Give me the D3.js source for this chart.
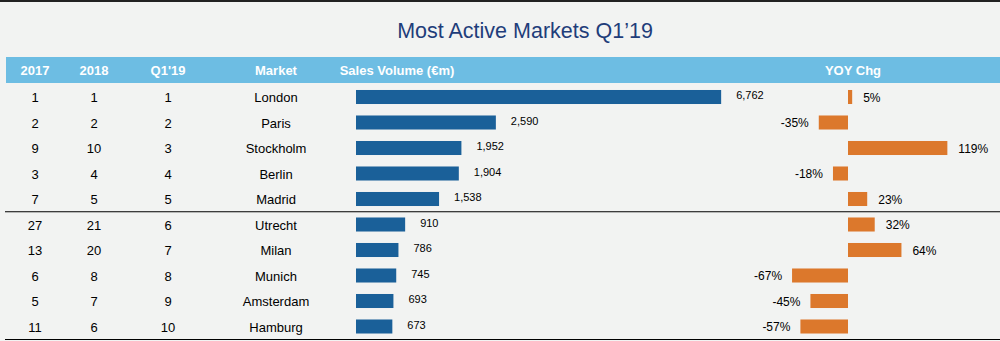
<!DOCTYPE html>
<html>
<head>
<meta charset="utf-8">
<script src="https://cdn.jsdelivr.net/npm/d3@7"></script>
<style>
  html, body { margin: 0; padding: 0; background: #f2f3f2; }
  svg { display: block; font-family: "Liberation Sans", Arial, sans-serif; }
</style>
</head>
<body>
<svg id="chart" width="1000" height="341"></svg>
<script>
const markets = ["London", "Paris", "Stockholm", "Berlin", "Madrid", "Utrecht", "Milan", "Munich", "Amsterdam", "Hamburg"];
const rank2017 = [1, 2, 9, 3, 7, 27, 13, 6, 5, 11];
const rank2018 = [1, 2, 10, 4, 5, 21, 20, 8, 7, 6];
const rankQ119 = [1, 2, 3, 4, 5, 6, 7, 8, 9, 10];
const salesVolume = [6762, 2590, 1952, 1904, 1538, 910, 786, 745, 693, 673];
const yoyChg = [5, -35, 119, -18, 23, 32, 64, -67, -45, -57];
const headers = ["2017", "2018", "Q1'19", "Market", "Sales Volume (€m)", "YOY Chg"];

const W = 1000, H = 341;
const svg = d3.select("#chart");

// background + top strip
svg.append("rect").attr("width", W).attr("height", H).attr("fill", "#f2f3f2");
svg.append("rect").attr("width", W).attr("height", 2).attr("fill", "#222");

svg.append("text")
  .attr("x", 525).attr("y", 38)
  .attr("text-anchor", "middle")
  .attr("font-size", 21.5)
  .attr("fill", "#1f3d7a")
  .text("Most Active Markets Q1\u201919");

// header band
svg.append("rect").attr("x", 6).attr("y", 57).attr("width", W - 6).attr("height", 26).attr("fill", "#6dbde3");
const headerX = [35, 94, 168, 276, 397, 853];
svg.selectAll(".hdr")
  .data(headers)
  .enter()
  .append("text")
  .attr("class", "hdr")
  .attr("x", (d, i) => headerX[i])
  .attr("y", 74.5)
  .attr("text-anchor", "middle")
  .attr("font-size", 13)
  .attr("font-weight", "bold")
  .attr("fill", "#fff")
  .text((d) => d);

const y = d3.scaleBand().domain(markets).range([84.25, 339.25]).paddingInner(0.45).paddingOuter(0.225);
const rowMid = (m) => y(m) + y.bandwidth() / 2;

const xSales = d3.scaleLinear().domain([0, 7000]).range([356, 734]);
const xYoy = d3.scaleLinear().domain([-100, 150]).range([764.5, 973.25]);

// text columns
const cols = [
  { x: 35, vals: rank2017 },
  { x: 94, vals: rank2018 },
  { x: 168, vals: rankQ119 },
  { x: 276, vals: markets },
];
cols.forEach((c) => {
  svg.append("g")
    .selectAll("text")
    .data(markets)
    .enter()
    .append("text")
    .attr("x", c.x)
    .attr("y", (d) => rowMid(d) + 5)
    .attr("text-anchor", "middle")
    .attr("font-size", 13)
    .attr("fill", "#000")
    .text((d, i) => c.vals[i]);
});

// sales bars
svg.append("g")
  .selectAll("rect")
  .data(markets)
  .enter()
  .append("rect")
  .attr("x", xSales(0))
  .attr("y", (d) => y(d))
  .attr("width", (d, i) => xSales(salesVolume[i]) - xSales(0))
  .attr("height", y.bandwidth())
  .attr("fill", "#1a6099");

svg.append("g")
  .selectAll("text")
  .data(markets)
  .enter()
  .append("text")
  .attr("x", (d, i) => xSales(salesVolume[i]) + 15)
  .attr("y", (d) => rowMid(d) + 2)
  .attr("font-size", 11)
  .attr("fill", "#000")
  .text((d, i) => d3.format(",")(salesVolume[i]));

// yoy bars
svg.append("g")
  .selectAll("rect")
  .data(markets)
  .enter()
  .append("rect")
  .attr("x", (d, i) => xYoy(Math.min(0, yoyChg[i])))
  .attr("y", (d) => y(d))
  .attr("width", (d, i) => Math.abs(xYoy(yoyChg[i]) - xYoy(0)))
  .attr("height", y.bandwidth())
  .attr("fill", "#dc782c");

svg.append("g")
  .selectAll("text")
  .data(markets)
  .enter()
  .append("text")
  .attr("x", (d, i) => xYoy(yoyChg[i]) + (yoyChg[i] < 0 ? -10 : 11))
  .attr("y", (d) => rowMid(d) + 4.5)
  .attr("text-anchor", (d, i) => (yoyChg[i] < 0 ? "end" : "start"))
  .attr("font-size", 12)
  .attr("fill", "#000")
  .text((d, i) => yoyChg[i] + "%");

// separators
const sepY = (y(markets[4]) + y.bandwidth() + y(markets[5])) / 2;
svg.append("line").attr("x1", 5).attr("x2", W).attr("y1", sepY).attr("y2", sepY).attr("stroke", "#000").attr("stroke-width", 1);
svg.append("line").attr("x1", 5).attr("x2", W).attr("y1", 339.5).attr("y2", 339.5).attr("stroke", "#000").attr("stroke-width", 1);
</script>
</body>
</html>
